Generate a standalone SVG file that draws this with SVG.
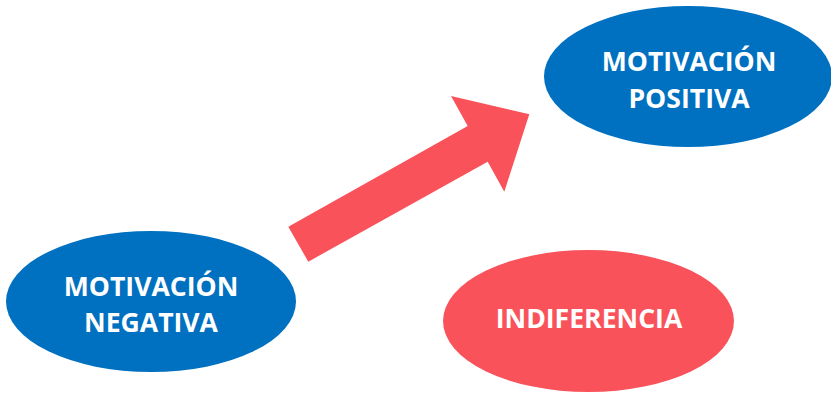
<svg xmlns="http://www.w3.org/2000/svg" width="831" height="393" viewBox="0 0 831 393">
<style>
.blue{fill:#0070C0}
.pink{fill:#FA525A}
.t{font-family:"Open Sans","Liberation Sans",sans-serif;font-weight:bold;font-size:26.6px;fill:#fff;text-anchor:middle}
</style>
<rect width="831" height="393" fill="#fff"/>
<g id="connectors">
<polygon class="pink" points="288.3,226.7 467.7,126 451,96 529.3,114.3 504.3,191.7 487.7,161.7 308.3,261.7"/>
</g>
<g id="positiva">
<ellipse class="blue" cx="688" cy="76.5" rx="144" ry="70.5"/>
<text class="t" x="689" y="71">MOTIVACIÓN</text>
<text class="t" x="689" y="108">POSITIVA</text>
</g>
<g id="negativa">
<ellipse class="blue" cx="151" cy="301.5" rx="145" ry="70.5"/>
<text class="t" x="151" y="296">MOTIVACIÓN</text>
<text class="t" x="151" y="332">NEGATIVA</text>
</g>
<g id="indiferencia">
<ellipse class="pink" cx="588.5" cy="321" rx="145.5" ry="71"/>
<text class="t" x="589" y="328">INDIFERENCIA</text>
</g>
</svg>
